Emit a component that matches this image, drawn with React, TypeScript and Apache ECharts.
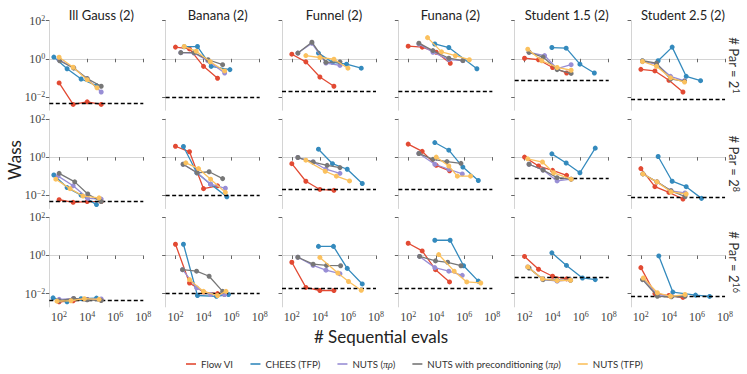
import React, { useEffect, useRef } from 'react';
import * as echarts from 'echarts';

type Pt = [number, number];

const problems = ['Ill Gauss (2)', 'Banana (2)', 'Funnel (2)', 'Funana (2)', 'Student 1.5 (2)', 'Student 2.5 (2)'];
const parExponents = ['1', '8', '16'];
const methods = ['Flow VI', 'CHEES (TFP)', 'NUTS (πρ)', 'NUTS with preconditioning (πρ)', 'NUTS (TFP)'];
const colors = ['#E24A33', '#348ABD', '#988ED5', '#777777', '#FBC15E'];
const xTicks = [1e2, 1e4, 1e6, 1e8];
const yTicks = [1e-2, 1e0, 1e2];

// each panel lists, in method order: Flow VI, CHEES, NUTS (πρ), NUTS precond, NUTS (TFP)
// points are [sequential evals, Wass]
const gaussPar2e1: Pt[][] = [
  [[1e2, 5.4e-2], [1e3, 4.0e-3], [1e4, 5.5e-3], [1e5, 4.0e-3]],
  [[42, 1.23], [370, 0.30], [3.7e3, 8.7e-2], [4.6e4, 3.9e-2]],
  [[1e2, 0.89], [1.1e3, 0.34], [1e4, 9e-2], [1e5, 1.8e-2]],
  [[1.1e2, 0.79], [1.1e3, 0.32], [1e4, 9.1e-2], [1e5, 3.6e-2]],
  [[1e2, 1.2], [1e3, 0.36], [1e4, 8e-2], [5e4, 3e-2]],
];
const bananaPar2e1: Pt[][] = [
  [[1e2, 4.1], [1e3, 3.3], [1e4, 0.40], [1e5, 9.5e-2]],
  [[4.2e2, 4.3], [3.7e3, 4.4], [3.5e4, 0.40], [7.6e5, 0.27]],
  [[2.4e2, 2.1], [2.1e3, 2.0], [2e4, 0.8], [3.2e5, 0.18]],
  [[2.4e2, 2.1], [2.1e3, 2.1], [2.1e4, 0.89], [2.3e5, 0.49]],
  [[4.2e2, 4.4], [3e3, 2.5], [3e4, 0.7], [3.2e5, 0.23]],
];
const funnelPar2e1: Pt[][] = [
  [[1e2, 1.74], [1e3, 0.69], [1e4, 0.11], [1e5, 3.6e-2]],
  [[7.9e3, 2.0], [7.9e4, 0.65], [7.9e5, 0.52], [8.9e6, 0.32]],
  [[2.7e2, 2.0], [2.7e3, 6.5], [2.7e4, 0.6], [2.7e5, 0.45]],
  [[2.7e2, 2.0], [2.7e3, 7.4], [2.7e4, 0.65], [2.7e5, 0.69]],
  [[1e3, 1.48], [1e4, 1.17], [1e5, 0.95], [1e6, 0.32]],
];
const funanaPar2e1: Pt[][] = [
  [[1e2, 4.6], [1e3, 4.1], [1e4, 2.2], [1e5, 0.58]],
  [[7.9e3, 6.0], [7.9e4, 3.9], [7.9e6, 0.30]],
  [[5.8e2, 6.0], [5.8e3, 2.2], [7.9e4, 0.9], [7.9e5, 0.8]],
  [[5.8e2, 6.6], [5.8e3, 2.7], [7.9e4, 1.07], [7.9e5, 0.81]],
  [[2.4e3, 12.9], [2.4e4, 2.3], [2.3e5, 1.45], [2.3e6, 0.89]],
];
const student15Par2e1: Pt[][] = [
  [[1e2, 1.07], [1e3, 0.89], [1e4, 0.35], [1e5, 0.18]],
  [[8.9e3, 3.9], [9.3e4, 3.6], [8.9e5, 0.52], [9.5e6, 0.18]],
  [[2.1e2, 2.2], [2.7e3, 1.48], [2.1e4, 0.3], [2.1e5, 0.49]],
  [[2.1e2, 2.2], [2.1e3, 1.23], [2.1e4, 0.27], [2.1e5, 0.17]],
  [[1.7e2, 3.2], [1.7e3, 0.79], [2.1e4, 0.35], [2.1e5, 0.25]],
];
const student25Par2e1: Pt[][] = [
  [[1e2, 0.28], [1e3, 0.23], [1e4, 7.4e-2], [1e5, 1.8e-2]],
  [[1.7e3, 0.79], [1.7e4, 4.1], [1.7e5, 0.12], [1.8e6, 7.1e-2]],
  [[1.3e2, 0.71], [1.3e3, 0.52], [1.3e4, 0.12], [1.3e5, 0.07]],
  [[1.3e2, 0.79], [1.3e3, 0.59], [1.3e4, 8.7e-2], [1.3e5, 6.6e-2]],
  [[1.3e2, 0.72], [1.3e3, 0.40], [1.3e4, 0.10], [1.3e5, 6.0e-2]],
];

const gaussPar2e8: Pt[][] = [
  [[1e2, 5.8e-3], [1e3, 4.2e-3], [1e4, 4.6e-3], [1e5, 4.6e-3]],
  [[42, 0.115], [370, 2.5e-2], [3.7e3, 1e-2], [4.6e4, 3.2e-3]],
  [[85, 0.10], [1e3, 3.1e-2], [1.1e4, 6.8e-3], [1e5, 6.2e-3]],
  [[1e2, 0.14], [1.3e3, 5e-2], [1.1e4, 1.15e-2], [1e5, 4.6e-3]],
  [[58, 6.9e-2], [6e2, 2.2e-2], [5e3, 9e-3], [7e4, 7.2e-3]],
];
const bananaPar2e8: Pt[][] = [
  [[1e2, 3.7], [1e3, 1.9], [1e4, 2.2e-2], [1e5, 3.1e-2]],
  [[3.7e2, 3.6], [3.3e3, 0.15], [3.2e4, 3.8e-2], [4.6e5, 8.3e-3]],
  [[3.5e2, 0.42], [3.5e3, 0.15], [3.2e4, 3.8e-2], [3.6e5, 2.3e-2]],
  [[3.5e2, 0.42], [3.5e3, 0.15], [2.5e4, 0.17], [2.3e5, 7.4e-2]],
  [[5.5e2, 0.50], [4.4e3, 0.25], [3.2e4, 6.9e-2], [3.6e5, 1.4e-2]],
];
const funnelPar2e8: Pt[][] = [
  [[1e2, 0.45], [1e3, 5.4e-2], [1e4, 2e-2], [1e5, 1.8e-2]],
  [[7.9e3, 2.6], [7.9e4, 0.45], [8.9e5, 0.23], [1.05e7, 4.1e-2]],
  [[2.7e2, 0.95], [3.3e3, 0.55], [2.7e4, 0.23], [2.7e5, 0.14]],
  [[2.7e2, 0.95], [3.3e3, 0.55], [3.3e4, 0.37], [2.7e5, 0.28]],
  [[1e3, 0.69], [2.4e4, 0.18], [1.5e5, 0.10], [1.3e6, 5.6e-2]],
];
const funanaPar2e8: Pt[][] = [
  [[1e2, 4.8], [1e3, 2.0], [1e4, 0.37], [8.9e4, 0.19]],
  [[7.9e3, 5.8], [7.9e4, 2.3], [7.9e5, 0.30], [1e7, 5.9e-2]],
  [[5.8e2, 1.55], [7.9e3, 0.42], [7.9e4, 0.23], [7.2e5, 0.13]],
  [[5.8e2, 1.55], [5.8e3, 0.76], [5.8e4, 0.58], [5.8e5, 0.47]],
  [[1e4, 1.0], [7.9e4, 0.34], [3.2e5, 0.10], [2.8e6, 0.10]],
];
const student15Par2e8: Pt[][] = [
  [[1e2, 1.0], [1e3, 0.34], [1e4, 0.20], [1e5, 0.11]],
  [[8.9e3, 1.48], [9.3e4, 0.49], [8.9e5, 0.15], [1.1e7, 2.95]],
  [[2.1e2, 0.42], [2.1e3, 0.21], [2.1e4, 5.6e-2], [2.1e5, 6.9e-2]],
  [[2.1e2, 0.42], [2.1e3, 0.21], [2.1e4, 8.3e-2], [2.1e5, 6.9e-2]],
  [[1.7e2, 0.81], [1.9e3, 0.55], [1.2e4, 0.15], [2.1e5, 6.9e-2]],
];
const student25Par2e8: Pt[][] = [
  [[1e2, 0.25], [1e3, 2.8e-2], [1e4, 1.4e-2], [1e5, 6.3e-3]],
  [[1.7e3, 1.07], [1.7e4, 5.4e-2], [1.7e5, 2.8e-2], [2.1e6, 6.8e-3]],
  [[1.4e2, 0.13], [1.4e3, 5e-2], [1.4e4, 1.7e-2], [1.4e5, 1.3e-2]],
  [[1.4e2, 0.13], [1.4e3, 5e-2], [1.4e4, 1.7e-2], [1.4e5, 8.5e-3]],
  [[1.4e2, 0.13], [1.4e3, 5e-2], [1.4e4, 1.5e-2], [1.7e5, 1.15e-2]],
];

const gaussPar2e16: Pt[][] = [
  [[1e2, 3.7e-3], [1e3, 4.2e-3], [1e4, 4.9e-3], [1e5, 4.7e-3]],
  [[37, 6e-3], [370, 3.7e-3], [3.7e3, 5.4e-3], [4.6e4, 5.8e-3]],
  [[1e2, 5e-3], [1e3, 5.4e-3], [1e4, 4.9e-3], [1e5, 5.2e-3]],
  [[1e2, 4.2e-3], [1.1e3, 5.5e-3], [1e4, 4.7e-3], [1e5, 4.3e-3]],
  [[70, 4e-3], [7e2, 4.2e-3], [6.3e3, 5.4e-3], [7e4, 5e-3]],
];
const bananaPar2e16: Pt[][] = [
  [[1e2, 3.9], [1e3, 3.6e-2], [1e4, 1.2e-2], [1e5, 1e-2], [3e5, 9e-3]],
  [[3.7e2, 3.9], [3.7e3, 7.9e-3], [8.3e4, 7.2e-3], [6e5, 8.9e-3]],
  [[3.2e2, 0.18], [3.2e3, 2e-2], [3.2e4, 8.9e-3], [3.2e5, 8.9e-3]],
  [[3.2e2, 0.18], [3.2e3, 0.15], [2.5e4, 8.1e-2], [2.3e5, 1.3e-2]],
  [[1e3, 5.4e-2], [1e4, 1.3e-2], [1e5, 7.9e-3], [4e5, 1.3e-2]],
];
const funnelPar2e16: Pt[][] = [
  [[1e2, 0.44], [1e3, 2.1e-2], [1e4, 1.45e-2], [1e5, 1.45e-2]],
  [[7.9e3, 3.0], [9.3e4, 3.0], [8.9e5, 0.21], [1.05e7, 3.2e-2]],
  [[2.7e2, 0.81], [3.3e3, 0.30], [2.7e4, 0.17], [2.7e5, 0.11]],
  [[2.7e2, 0.81], [3.3e3, 0.35], [3e4, 0.30], [3e5, 0.29]],
  [[1e4, 0.79], [1.9e5, 0.12], [1.1e6, 4.3e-2], [8.9e6, 1.5e-2]],
];
const funanaPar2e16: Pt[][] = [
  [[1e2, 4.4], [1e3, 1.74], [8.9e3, 0.18], [8.9e4, 4.1e-2]],
  [[7.9e3, 6.3], [9.8e4, 6.3], [8.9e5, 0.29], [1e7, 4.5e-2]],
  [[6.5e2, 0.89], [7.9e3, 0.23], [7.9e4, 0.15], [7.2e5, 9.1e-2]],
  [[6.5e2, 0.89], [8.9e3, 0.52], [6.5e4, 0.44], [5.8e5, 0.29]],
  [[1.5e4, 1.12], [1.9e5, 0.15], [1.5e6, 4.1e-2], [1.5e7, 3.6e-2]],
];
const student15Par2e16: Pt[][] = [
  [[1e2, 0.89], [1e3, 0.19], [1e4, 8.1e-2], [1e5, 5.9e-2]],
  [[8.9e3, 1.38], [9.8e4, 0.30], [1.35e6, 6.6e-2], [1.1e7, 5.4e-2]],
  [[1.7e2, 0.25], [2e3, 5.6e-2], [2.1e4, 4.5e-2], [1.9e5, 5.2e-2]],
  [[2.1e2, 0.22], [2.1e3, 5.4e-2], [2.1e4, 5e-2], [1.9e5, 5e-2]],
  [[1.7e2, 0.25], [1.9e3, 5.9e-2], [2.1e4, 4.8e-2], [1.9e5, 5e-2]],
];
const student25Par2e16: Pt[][] = [
  [[1e2, 0.23], [1e3, 1e-2], [1e4, 7.9e-3], [1e5, 6.3e-3]],
  [[1.9e3, 0.95], [1.9e4, 1.2e-2], [7.9e5, 8.3e-3], [7.9e6, 7.1e-3]],
  [[1.5e2, 5.6e-2], [1.5e3, 8.9e-3], [1.5e4, 7.1e-3], [1.4e5, 7.9e-3]],
  [[1.3e2, 5.4e-2], [1.5e3, 7.2e-3], [1.5e4, 6.8e-3], [1.4e5, 7.2e-3]],
  [[1.5e2, 6.6e-2], [1.5e3, 1.1e-2], [1.3e4, 7.2e-3], [1.4e5, 8.9e-3]],
];

// reference (dashed) Wass level per panel
const refPar2e1 = [4.4e-3, 1e-2, 1.9e-2, 2.1e-2, 7.8e-2, 7.6e-3];
const refPar2e8 = [4.6e-3, 1e-2, 2e-2, 2e-2, 7.8e-2, 7.9e-3];
const refPar2e16 = [4.6e-3, 1e-2, 1.8e-2, 1.8e-2, 7.4e-2, 7.2e-3];

const panelRows: Pt[][][][] = [
  [gaussPar2e1, bananaPar2e1, funnelPar2e1, funanaPar2e1, student15Par2e1, student25Par2e1],
  [gaussPar2e8, bananaPar2e8, funnelPar2e8, funanaPar2e8, student15Par2e8, student25Par2e8],
  [gaussPar2e16, bananaPar2e16, funnelPar2e16, funanaPar2e16, student15Par2e16, student25Par2e16],
];
const refRows = [refPar2e1, refPar2e8, refPar2e16];

const X_MIN = 1.3;
const X_MAX = 8;
const Y_MIN = -2.7;
const Y_MAX = 2;

const SANS = 'Lato';
const SERIF = 'Liberation Serif';

const supText = (v: number) => {
  const r = Math.round(v);
  return r < 0 ? '−' + Math.abs(r) : String(r);
};

const tickRich = {
  b: { fontFamily: SERIF, fontSize: 12, color: '#444' },
  s: { fontFamily: SERIF, fontSize: 8, color: '#444', verticalAlign: 'top' as const },
};

export default function App() {
  const ref = useRef<HTMLDivElement>(null);
  useEffect(() => {
    if (!ref.current) return;
    const chart = echarts.init(ref.current, null, { renderer: 'svg' });

    const colLeft = (c: number) => 49.3 + 116.35 * c;
    const rowTop = [20.7, 119, 217.4];
    const W = 94;
    const H = 89.5;

    const grids: any[] = [];
    const xAxes: any[] = [];
    const yAxes: any[] = [];
    const series: any[] = [];
    const xTickVals = xTicks.map((t) => Math.log10(t));
    const yTickVals = yTicks.map((t) => Math.log10(t));

    panelRows.forEach((row, r) => {
      row.forEach((panel, c) => {
        const idx = grids.length;
        grids.push({ left: colLeft(c), top: rowTop[r], width: W, height: H, containLabel: false });
        xAxes.push({
          type: 'value',
          gridIndex: idx,
          min: X_MIN,
          max: X_MAX,
          axisLine: { show: true, lineStyle: { color: '#d4d4d4', width: 1 } },
          axisTick: { show: true, customValues: xTickVals, length: 3.5, lineStyle: { color: '#666' } },
          axisLabel: {
            show: r === 2,
            customValues: xTickVals,
            margin: 4,
            formatter: (v: number) => `{b|10}{s|${supText(v)}}`,
            rich: tickRich,
          },
          splitLine: { show: false },
        });
        yAxes.push({
          type: 'value',
          gridIndex: idx,
          min: Y_MIN,
          max: Y_MAX,
          axisLine: { show: true, lineStyle: { color: '#d4d4d4', width: 1 } },
          axisTick: { show: true, customValues: yTickVals, length: 3.5, lineStyle: { color: '#666' } },
          axisLabel: {
            show: c === 0,
            customValues: yTickVals,
            margin: 4,
            formatter: (v: number) => `{b|10}{s|${supText(v)}}`,
            rich: tickRich,
          },
          splitLine: { show: false },
        });
        panel.forEach((pts, m) => {
          const s: any = {
            type: 'line',
            name: methods[m],
            xAxisIndex: idx,
            yAxisIndex: idx,
            data: pts.map(([x, y]) => [Math.log10(x), Math.log10(y)]),
            symbol: 'circle',
            symbolSize: 5,
            showSymbol: true,
            lineStyle: { color: colors[m], width: 1.3 },
            itemStyle: { color: colors[m] },
            z: 3 + m,
          };
          if (m === 0) {
            s.markLine = {
              silent: true,
              symbol: ['none', 'none'],
              label: { show: false },
              lineStyle: { color: '#000', type: [4, 2.5], width: 1.3 },
              data: [{ yAxis: Math.log10(refRows[r][c]) }],
            };
          }
          series.push(s);
        });
      });
    });

    const titles = problems.map((p, c) => ({
      text: p,
      left: colLeft(c) + W / 2,
      top: 3,
      textAlign: 'center',
      textStyle: { fontFamily: SANS, fontSize: 13, fontWeight: 'normal', color: '#222' },
    }));

    const graphics: any[] = [];
    parExponents.forEach((e, r) => {
      graphics.push({
        type: 'text',
        x: 734,
        y: rowTop[r] + H / 2,
        rotation: -Math.PI / 2,
        style: {
          text: `{a|# Par = 2}{s|${e}}`,
          align: 'center',
          verticalAlign: 'middle',
          rich: {
            a: { fontFamily: SANS, fontSize: 13, fill: '#333', color: '#333' },
            s: { fontFamily: SANS, fontSize: 9, fill: '#333', color: '#333', verticalAlign: 'top' },
          },
        },
      });
    });
    graphics.push({
      type: 'text',
      x: 14,
      y: 160,
      rotation: Math.PI / 2,
      style: { text: 'Wass', fontFamily: SANS, fontSize: 17, fill: '#222', align: 'center', verticalAlign: 'middle' },
    });
    graphics.push({
      type: 'text',
      x: 381,
      y: 336,
      style: { text: '# Sequential evals', fontFamily: SANS, fontSize: 17, fill: '#222', align: 'center', verticalAlign: 'middle' },
    });

    chart.setOption({
      animation: false,
      backgroundColor: '#fff',
      title: titles,
      grid: grids,
      xAxis: xAxes,
      yAxis: yAxes,
      series,
      graphic: graphics,
      legend: {
        data: methods.map((n, i) => ({ name: n, itemStyle: { color: colors[i] } })),
        left: 181,
        top: 354,
        icon: 'rect',
        itemWidth: 10,
        itemHeight: 1.6,
        itemGap: 17,
        selectedMode: false,
        formatter: (name: string) => name.replace('(πρ)', '({i|πρ})'),
        textStyle: {
          fontFamily: SANS,
          fontSize: 9.7,
          color: '#333',
          rich: { i: { fontFamily: SERIF, fontStyle: 'italic', fontSize: 10, color: '#333' } },
        },
      },
    });
    return () => chart.dispose();
  }, []);
  return <div ref={ref} style={{ position: 'fixed', left: 0, top: 0, width: 747, height: 374 }} />;
}
